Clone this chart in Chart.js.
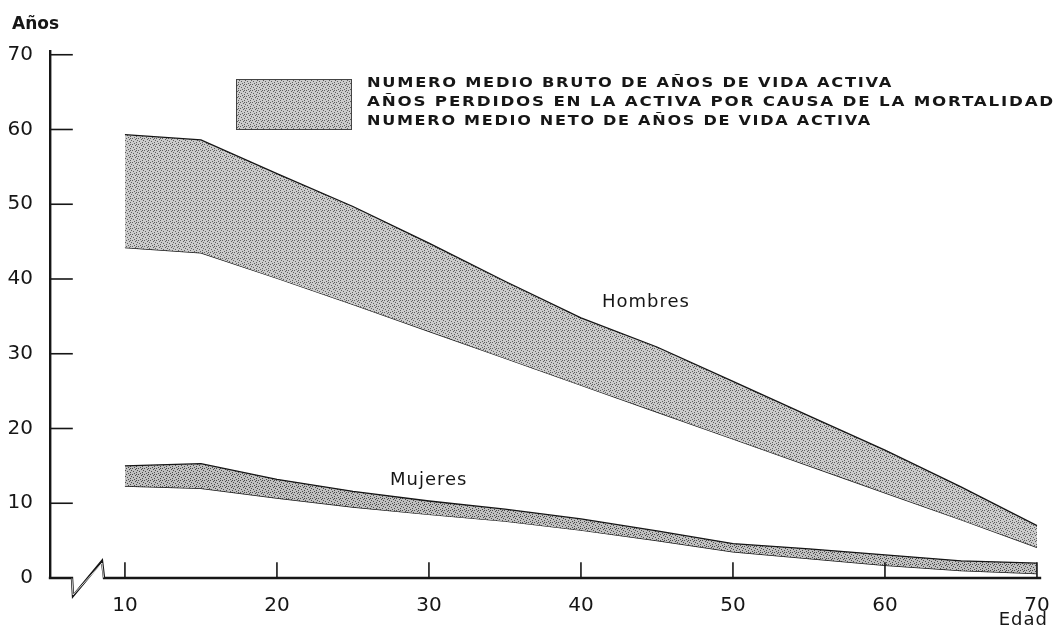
<!DOCTYPE html>
<html>
<head>
<meta charset="utf-8">
<script src="https://cdn.jsdelivr.net/npm/chart.js@4.4.1/dist/chart.umd.min.js"></script>
<style>
  html, body { margin: 0; padding: 0; background: #fff; }
  #wrap { width: 1062px; height: 631px; }
</style>
</head>
<body>
<div id="wrap"><canvas id="chart"></canvas></div>
<script>
// ===== Data =====
const ages = [10, 15, 20, 25, 30, 35, 40, 45, 50, 55, 60, 65, 70];
const menGross   = [59.3, 58.6, 54.1, 49.7, 44.8, 39.7, 34.8, 30.9, 26.3, 21.7, 17.1, 12.2, 7.0];
const menNet     = [44.2, 43.5, 40.1, 36.6, 33.0, 29.4, 25.8, 22.2, 18.6, 15.0, 11.4, 7.8, 4.1];
const womenGross = [15.0, 15.3, 13.2, 11.6, 10.3, 9.2, 7.9, 6.3, 4.6, 3.9, 3.1, 2.3, 2.0];
const womenNet   = [12.3, 12.0, 10.7, 9.5, 8.5, 7.6, 6.4, 5.0, 3.5, 2.6, 1.7, 1.0, 0.6];
const xTicks = [10, 20, 30, 40, 50, 60, 70];
const yTicks = [0, 10, 20, 30, 40, 50, 60, 70];
const legendLines = [
    'NUMERO MEDIO BRUTO DE AÑOS DE VIDA ACTIVA',
    'AÑOS PERDIDOS EN LA ACTIVA POR CAUSA DE LA MORTALIDAD',
    'NUMERO MEDIO NETO DE AÑOS DE VIDA ACTIVA'
];

const INK = '#161616';

// ===== Stipple fill (like the printed dot screen) =====
const canvas = document.getElementById('chart');
const ctx = canvas.getContext('2d');

function makeStipple(base, dot) {
    const c = document.createElement('canvas');
    c.width = 6; c.height = 6;
    const g = c.getContext('2d');
    g.fillStyle = base;
    g.fillRect(0, 0, 6, 6);
    g.fillStyle = dot;
    [[0, 0], [3, 1], [1, 3], [4, 4], [5, 2], [2, 5], [4, 0]].forEach(p => g.fillRect(p[0], p[1], 1, 1));
    return ctx.createPattern(c, 'repeat');
}
const menFill = makeStipple('#cbcbcb', '#5e5e5e');
const womenFill = makeStipple('#c0c0c0', '#4a4a4a');

const toPts = (ys) => ages.map((a, i) => ({ x: a, y: ys[i] }));

// ===== Extra drawing: broken x axis, inner ticks, labels, legend =====
const decor = {
    id: 'decor',
    afterDraw(chart) {
        const c = chart.ctx;
        const { left, right, bottom } = chart.chartArea;
        const xs = chart.scales.x, ys = chart.scales.y;
        c.save();
        c.strokeStyle = INK;
        c.lineCap = 'square';

        // x axis with the zigzag break
        c.lineWidth = 2.4;
        c.beginPath();
        c.moveTo(left, bottom);
        c.lineTo(left + 22, bottom);
        c.lineTo(left + 23, bottom + 18);
        c.lineTo(left + 52, bottom - 17);
        c.lineTo(left + 54, bottom);
        c.lineTo(right, bottom);
        c.stroke();
        c.strokeStyle = '#fff';
        c.lineWidth = 0.8;
        c.beginPath();
        c.moveTo(left + 22, bottom + 1);
        c.lineTo(left + 23, bottom + 17);
        c.lineTo(left + 52, bottom - 15);
        c.lineTo(left + 53.5, bottom - 1);
        c.stroke();

        // ticks drawn on the inside
        c.strokeStyle = INK;
        c.lineWidth = 1.6;
        yTicks.forEach(v => {
            if (v === 0) return;
            const py = ys.getPixelForValue(v);
            c.beginPath();
            c.moveTo(left, py);
            c.lineTo(left + 22, py);
            c.stroke();
        });
        xTicks.forEach(v => {
            const px = xs.getPixelForValue(v);
            c.beginPath();
            c.moveTo(px, bottom);
            c.lineTo(px, bottom - 15);
            c.stroke();
        });

        // axis names and series labels
        c.fillStyle = INK;
        c.textBaseline = 'middle';
        c.textAlign = 'left';
        c.font = 'bold 17px "DejaVu Sans"';
        c.fillText('Años', 12, 25);
        c.textAlign = 'right';
        c.font = '18px "DejaVu Sans"';
        c.letterSpacing = '1px';
        c.fillText('Edad', 1048, 620);
        c.textAlign = 'left';
        c.fillText('Hombres', 602, 302);
        c.fillText('Mujeres', 390, 480);

        // legend: one stippled swatch, three lines of text
        c.fillStyle = menFill;
        c.fillRect(236, 79, 116, 51);
        c.lineWidth = 1;
        c.strokeStyle = '#444';
        c.strokeRect(236.5, 79.5, 115, 50);

        c.fillStyle = INK;
        c.font = 'bold 14px "DejaVu Sans"';
        c.letterSpacing = '1.5px';
        const widths = [526, 688, 505];
        legendLines.forEach((t, i) => {
            const w = c.measureText(t).width;
            c.save();
            c.translate(367, 83 + i * 19);
            c.scale(widths[i] / w, 1);
            c.fillText(t, 0, 0);
            c.restore();
        });
        c.restore();
    }
};

const lineStyle = { borderColor: INK, borderWidth: 1.3, pointRadius: 0, tension: 0 };

const chart = new Chart(ctx, {
    type: 'line',
    data: {
        datasets: [
            { label: 'Hombres bruto', data: toPts(menGross), fill: '+1', backgroundColor: menFill, ...lineStyle },
            { label: 'Hombres neto', data: toPts(menNet), fill: false, ...lineStyle },
            { label: 'Mujeres bruto', data: toPts(womenGross), fill: '+1', backgroundColor: womenFill, ...lineStyle },
            { label: 'Mujeres neto', data: toPts(womenNet), fill: false, ...lineStyle }
        ]
    },
    options: {
        responsive: true,
        maintainAspectRatio: false,
        animation: false,
        layout: { padding: { left: 0, top: 51, right: 22, bottom: 0 } },
        plugins: {
            legend: { display: false },
            tooltip: { enabled: false }
        },
        scales: {
            x: {
                type: 'linear',
                min: 5.07,
                max: 70.2,
                afterBuildTicks: s => { s.ticks = xTicks.map(v => ({ value: v })); },
                afterFit: s => { s.height = 53; },
                grid: { display: false },
                border: { display: false },
                ticks: {
                    color: INK,
                    padding: 8,
                    maxRotation: 0,
                    autoSkip: false,
                    font: { family: 'DejaVu Sans', size: 20 }
                }
            },
            y: {
                min: 0,
                max: 70.5,
                afterBuildTicks: s => { s.ticks = yTicks.map(v => ({ value: v })); },
                afterFit: s => { s.width = 50; },
                grid: { display: false },
                border: { display: true, color: INK, width: 2.4 },
                ticks: {
                    color: INK,
                    padding: 9,
                    font: { family: 'DejaVu Sans', size: 20 }
                }
            }
        }
    },
    plugins: [decor]
});
</script>
</body>
</html>
